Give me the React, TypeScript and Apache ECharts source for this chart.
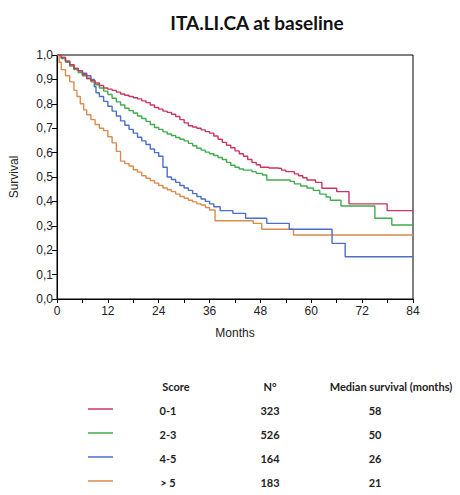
import React, { useEffect, useRef } from "react";
import * as echarts from "echarts";

// Kaplan-Meier curves: [month, survival]
const score01: [number, number][] = [
  [0, 1.0], [1, 0.99], [2, 0.975], [3, 0.96], [4, 0.945], [5, 0.935], [6, 0.92], [7, 0.905],
  [8, 0.895], [9, 0.885], [10, 0.875], [11, 0.865], [12, 0.86], [13, 0.855], [14, 0.848],
  [15, 0.84], [16, 0.835], [17, 0.83], [18, 0.825], [19, 0.82], [20, 0.812], [21, 0.805],
  [22, 0.795], [23, 0.785], [24, 0.778], [25, 0.77], [26, 0.765], [27, 0.757], [28, 0.748],
  [29, 0.735], [30, 0.722], [31, 0.71], [32, 0.705], [33, 0.7], [34, 0.693], [35, 0.686],
  [36, 0.68], [37, 0.668], [38, 0.655], [39, 0.642], [40, 0.63], [41, 0.62], [42, 0.607],
  [43, 0.595], [44, 0.585], [45, 0.572], [46, 0.56], [47, 0.55], [48, 0.54], [50, 0.537],
  [52, 0.535], [53, 0.528], [54, 0.522], [56, 0.513], [57, 0.505], [58, 0.497], [59, 0.488],
  [61, 0.478], [62.5, 0.454], [66, 0.44], [68.9, 0.39], [77.9, 0.362], [84, 0.362],
];
const score23: [number, number][] = [
  [0, 1.0], [1, 0.985], [2, 0.97], [3, 0.955], [4, 0.94], [5, 0.928], [6, 0.915], [7, 0.902],
  [8, 0.89], [9, 0.878], [10, 0.865], [11, 0.852], [12, 0.838], [13, 0.823], [14, 0.808],
  [15, 0.795], [16, 0.782], [17, 0.772], [18, 0.762], [19, 0.75], [20, 0.74], [21, 0.728],
  [22, 0.715], [23, 0.703], [24, 0.695], [25, 0.685], [26, 0.676], [27, 0.67], [28, 0.662],
  [29, 0.655], [30, 0.648], [31, 0.638], [32, 0.628], [33, 0.618], [34, 0.61], [35, 0.602],
  [36, 0.595], [37, 0.588], [38, 0.58], [39, 0.572], [40, 0.56], [41, 0.548], [42, 0.54],
  [43, 0.533], [44, 0.528], [46, 0.522], [47, 0.515], [48.5, 0.508], [49.5, 0.488],
  [55, 0.482], [56, 0.472], [57.5, 0.463], [59, 0.455], [60.5, 0.445], [62, 0.43],
  [63.5, 0.418], [64.5, 0.405], [67, 0.381], [75, 0.331], [79, 0.303], [84, 0.303],
];
const score45: [number, number][] = [
  [0, 1.0], [1, 0.99], [2, 0.975], [3, 0.96], [4, 0.945], [5, 0.935], [6, 0.925], [7, 0.915],
  [8, 0.9], [8.8, 0.87], [9.2, 0.845], [10, 0.83], [11, 0.81], [12, 0.79], [13, 0.77],
  [14, 0.75], [15, 0.73], [16, 0.712], [17, 0.695], [18, 0.68], [19, 0.663], [20, 0.648],
  [21, 0.633], [22, 0.615], [23, 0.6], [24, 0.585], [25, 0.54], [26, 0.5], [27, 0.49],
  [28, 0.478], [29, 0.465], [30, 0.455], [31, 0.445], [32, 0.432], [33, 0.42], [34, 0.41],
  [35, 0.4], [36, 0.39], [37, 0.378], [38.5, 0.362], [41.5, 0.351], [44.5, 0.331],
  [49.5, 0.31], [54.8, 0.286], [64.9, 0.228], [68, 0.173], [84, 0.173],
];
const scoreGt5: [number, number][] = [
  [0, 1.0], [0.5, 0.97], [1, 0.94], [2, 0.915], [3, 0.89], [4, 0.855], [4.7, 0.83],
  [5.5, 0.8], [6.3, 0.775], [7, 0.755], [8, 0.735], [9, 0.715], [10, 0.7], [11, 0.69],
  [12, 0.665], [13, 0.64], [14, 0.605], [15, 0.565], [16, 0.555], [17, 0.545], [18, 0.53],
  [19, 0.52], [20, 0.505], [21, 0.495], [22, 0.485], [23, 0.475], [24, 0.465], [25, 0.455],
  [26, 0.448], [27, 0.44], [28, 0.43], [29, 0.42], [30, 0.413], [31, 0.405], [32, 0.398],
  [33, 0.39], [34, 0.385], [35, 0.375], [36, 0.365], [37.3, 0.321], [46.3, 0.31],
  [48.3, 0.286], [55.8, 0.262], [84, 0.262],
];

const scoreLabels = ["0-1", "2-3", "4-5", "> 5"];
const patientCounts = ["323", "526", "164", "183"];
const medianSurvival = ["58", "50", "26", "21"];
const curves = [score01, score23, score45, scoreGt5];
const colors = ["#c9375f", "#3fad4b", "#4a6fc4", "#dc8a4e"];

export default function App() {
  const ref = useRef<HTMLDivElement>(null);
  useEffect(() => {
    if (!ref.current) return;
    const chart = echarts.init(ref.current, null, { renderer: "svg" });
    const tableFont = "Lato, 'Open Sans', sans-serif";
    const rowY = [410, 434, 458, 482];
    const graphic: any[] = [
      { type: "text", x: 176, y: 386, style: { text: "Score", font: `bold 11px ${tableFont}`, fill: "#222", align: "center", verticalAlign: "middle" } },
      { type: "text", x: 270, y: 386, style: { text: "N°", font: `bold 11px ${tableFont}`, fill: "#222", align: "center", verticalAlign: "middle" } },
      { type: "text", x: 391, y: 386, style: { text: "Median survival (months)", font: `bold 11px ${tableFont}`, fill: "#222", align: "center", verticalAlign: "middle" } },
    ];
    scoreLabels.forEach((s, i) => {
      graphic.push({ type: "line", shape: { x1: 88, y1: rowY[i] - 1, x2: 113, y2: rowY[i] - 1 }, style: { stroke: colors[i], lineWidth: 1.5 } });
      graphic.push({ type: "text", x: 168, y: rowY[i], style: { text: s, font: `bold 11px ${tableFont}`, fill: "#222", align: "center", verticalAlign: "middle" } });
      graphic.push({ type: "text", x: 270, y: rowY[i], style: { text: patientCounts[i], font: `bold 11px ${tableFont}`, fill: "#222", align: "center", verticalAlign: "middle" } });
      graphic.push({ type: "text", x: 375, y: rowY[i], style: { text: medianSurvival[i], font: `bold 11px ${tableFont}`, fill: "#222", align: "center", verticalAlign: "middle" } });
    });
    chart.setOption({
      animation: false,
      backgroundColor: "#fff",
      title: {
        text: "ITA.LI.CA at baseline",
        left: 252,
        top: 8,
        textAlign: "center",
        textStyle: { fontFamily: tableFont, fontWeight: "bold", fontSize: 19, color: "#111" },
      },
      grid: { left: 57, right: 47, top: 55, height: 244, show: true, borderColor: "#000", borderWidth: 1, backgroundColor: "transparent" },
      xAxis: {
        type: "value",
        min: 0,
        max: 84,
        interval: 6,
        name: "Months",
        nameLocation: "middle",
        nameGap: 28,
        nameTextStyle: { fontFamily: "'Liberation Sans', Arial, sans-serif", fontSize: 12, color: "#222" },
        axisLine: { lineStyle: { color: "#000", width: 1 } },
        axisTick: { show: true, length: 4, lineStyle: { color: "#000" } },
        axisLabel: {
          fontFamily: "'Liberation Sans', Arial, sans-serif",
          fontSize: 12,
          color: "#222",
          margin: 6,
          formatter: (v: number) => (v % 12 === 0 ? String(v) : ""),
        },
        splitLine: { show: false },
      },
      yAxis: {
        type: "value",
        min: 0,
        max: 1,
        interval: 0.1,
        name: "Survival",
        nameLocation: "middle",
        nameGap: 37,
        nameTextStyle: { fontFamily: "'Liberation Sans', Arial, sans-serif", fontSize: 12, color: "#222" },
        axisLine: { show: true, lineStyle: { color: "#000", width: 1 } },
        axisTick: { show: true, length: 5, lineStyle: { color: "#000" } },
        axisLabel: {
          fontFamily: "'Liberation Sans', Arial, sans-serif",
          fontSize: 12,
          color: "#222",
          margin: 4,
          formatter: (v: number) => v.toFixed(1).replace(".", ","),
        },
        splitLine: { show: false },
      },
      series: curves.map((c, i) => ({
        name: scoreLabels[i],
        type: "line",
        step: "end",
        data: c,
        showSymbol: false,
        symbol: "none",
        lineStyle: { color: colors[i], width: 1.4 },
        z: 10 - i,
      })),
      graphic,
    });
    return () => chart.dispose();
  }, []);
  return <div ref={ref} style={{ position: "fixed", left: 0, top: 0, width: 460, height: 495 }} />;
}
